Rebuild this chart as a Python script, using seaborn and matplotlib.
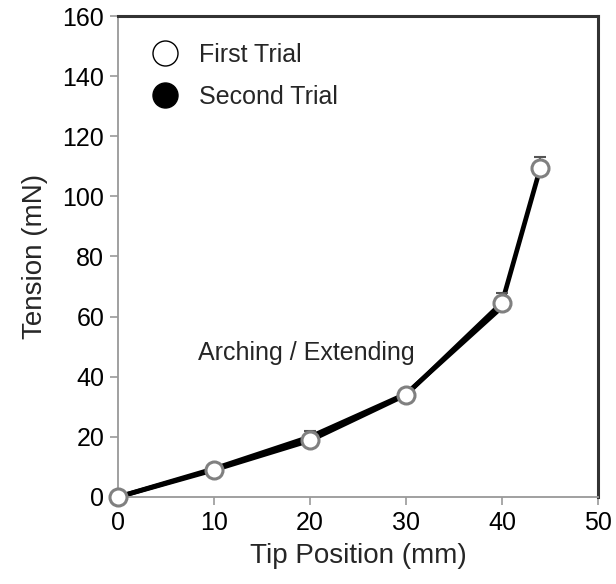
import matplotlib
matplotlib.use("Agg")
import matplotlib.pyplot as plt
from matplotlib.lines import Line2D
import seaborn as sns
import pandas as pd

# Data
first_x = [0, 10, 20, 30, 40, 44]
first_y = [0, 9, 18.8, 34, 64.6, 109.6]
first_err = [0, 1.8, 3.2, 2.0, 3.2, 3.6]
second_x = [0, 10, 20, 30, 40]
second_y = [0, 9.4, 20.0, 34.3, 63.2]
trial_labels = ["First Trial", "Second Trial"]
x_ticks = [0, 10, 20, 30, 40, 50]
y_ticks = [0, 20, 40, 60, 80, 100, 120, 140, 160]

sns.set_style("white")
plt.rcParams["font.family"] = ["Liberation Sans", "DejaVu Sans"]

df = pd.DataFrame({
    "x": first_x + second_x,
    "y": first_y + second_y,
    "trial": [trial_labels[0]] * len(first_x) + [trial_labels[1]] * len(second_x),
})

fig = plt.figure(figsize=(6.16, 5.84), dpi=100)
ax = fig.add_axes([0.1916, 0.149, 0.7792, 0.8236])

sns.lineplot(data=df, x="x", y="y", hue="trial", palette=["black", "black"],
             linewidth=3.4, ax=ax, legend=False, zorder=2, sort=False)

# upper error bars
ax.errorbar(first_x, first_y, yerr=[[0] * len(first_err), first_err], fmt="none",
            ecolor="#555555", elinewidth=1.5, capsize=4, capthick=1.5, zorder=3)

first_df = df[df["trial"] == trial_labels[0]]
sns.scatterplot(data=first_df, x="x", y="y", ax=ax, s=150, color="white",
                edgecolor="#808080", linewidth=2.2, zorder=5, legend=False,
                clip_on=False)

ax.set_xlim(0, 50)
ax.set_ylim(0, 160)
ax.set_xticks(x_ticks)
ax.set_yticks(y_ticks)
ax.tick_params(axis="both", direction="out", length=6, width=1.2, color="#999999",
               labelsize=18, labelcolor="black", pad=4)
ax.tick_params(axis="both", which="both", bottom=True, left=True)
ax.set_xlabel("Tip Position (mm)", fontsize=20, labelpad=6)
ax.set_ylabel("Tension (mN)", fontsize=20, labelpad=10)

for side in ["left", "bottom"]:
    ax.spines[side].set_color("#999999")
    ax.spines[side].set_linewidth(1.3)
for side in ["top", "right"]:
    ax.spines[side].set_color("#333333")
    ax.spines[side].set_linewidth(2.2)

ax.text(8.3, 48, "Arching / Extending", fontsize=18, va="center", ha="left")

handles = [
    Line2D([], [], linestyle="none", marker="o", markersize=18,
           markerfacecolor="white", markeredgecolor="black", markeredgewidth=1.0),
    Line2D([], [], linestyle="none", marker="o", markersize=18,
           markerfacecolor="black", markeredgecolor="black"),
]
ax.legend(handles, trial_labels, loc="upper left", frameon=False, fontsize=18,
          bbox_to_anchor=(0.01, 0.98), handletextpad=0.35, labelspacing=0.72,
          borderaxespad=0.3)

fig.savefig("out.png", dpi=100)
